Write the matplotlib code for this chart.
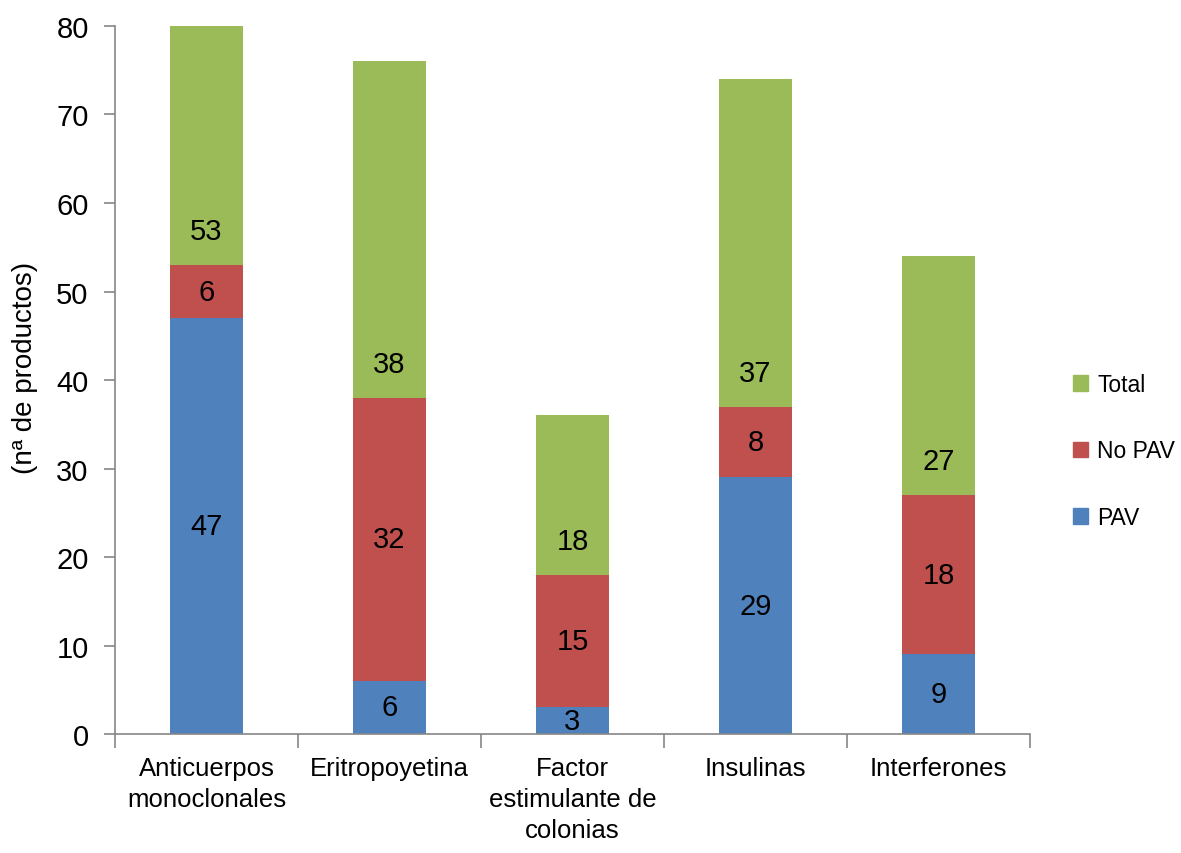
import numpy as np
import matplotlib
matplotlib.use('Agg')
import matplotlib.pyplot as plt
from matplotlib.patches import Patch

categorias = ['Anticuerpos\nmonoclonales', 'Eritropoyetina',
              'Factor\nestimulante de\ncolonias', 'Insulinas', 'Interferones']
pav    = [47, 6, 3, 29, 9]
no_pav = [6, 32, 15, 8, 18]
total  = [53, 38, 18, 37, 27]

clr_pav   = '#4F81BD'
clr_nopav = '#C0504D'
clr_total = '#9BBB59'
clr_axis  = '#868686'

plt.rcParams['font.family'] = ['Liberation Sans', 'DejaVu Sans']

fig = plt.figure(figsize=(11.81, 8.54), dpi=100)
ax = fig.add_axes([0.0974, 0.1393, 0.8721 - 0.0974, 0.9684 - 0.1393])

x = np.arange(len(categorias))
w = 0.4
base_nopav = np.array(pav)
base_total = np.array(pav) + np.array(no_pav)

ax.bar(x, pav, w, color=clr_pav, edgecolor='none', label='PAV')
ax.bar(x, no_pav, w, bottom=base_nopav, color=clr_nopav, edgecolor='none', label='No PAV')
ax.bar(x, total, w, bottom=base_total, color=clr_total, edgecolor='none', label='Total')

# value labels: PAV / No PAV centred, Total just above its base
for i in range(len(x)):
    ax.text(x[i], pav[i] / 2., str(pav[i]), ha='center', va='center', fontsize=21)
    ax.text(x[i], base_nopav[i] + no_pav[i] / 2., str(no_pav[i]), ha='center', va='center',
            fontsize=21)
    ax.text(x[i], base_total[i] + 3.8, str(total[i]), ha='center', va='center', fontsize=21)

ax.set_ylim(0, 80)
ax.set_xlim(-0.5, len(x) - 0.5)
ax.set_yticks(np.arange(0, 81, 10))
ax.set_xticks(x)
ax.set_xticklabels(categorias, fontsize=18.5, linespacing=1.35)
ax.set_xticks(np.arange(-0.5, len(x)), minor=True)
ax.tick_params(axis='x', which='major', length=0, pad=16)
ax.tick_params(axis='x', which='minor', length=10, color=clr_axis, width=1.2, direction='out')
ax.tick_params(axis='y', length=8, color=clr_axis, width=1.2, pad=11, labelsize=21)

for s in ['top', 'right']:
    ax.spines[s].set_visible(False)
for s in ['left', 'bottom']:
    ax.spines[s].set_color(clr_axis)
    ax.spines[s].set_linewidth(1.2)

fig.text(0.021, 1 - 368 / 854., '(nª de productos)', rotation=90, ha='center', va='center',
         fontsize=20)

handles = [Patch(color=clr_total, label='Total'),
           Patch(color=clr_nopav, label='No PAV'),
           Patch(color=clr_pav, label='PAV')]
fig.legend(handles=handles, loc='center left', bbox_to_anchor=(1073 / 1181., 1 - 452 / 854.),
           frameon=False, fontsize=16.5, handlelength=0.65, handleheight=0.65,
           handletextpad=0.4, labelspacing=1.9, borderpad=0, borderaxespad=0)

plt.savefig('out.png', dpi=100)
